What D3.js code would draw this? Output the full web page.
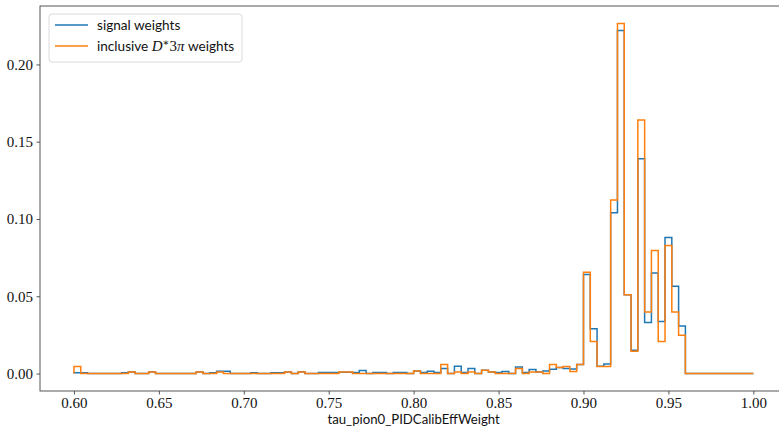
<!DOCTYPE html>
<html>
<head>
<meta charset="utf-8">
<script src="https://cdn.jsdelivr.net/npm/d3@7"></script>
<style>
  body { margin: 0; background: #fff; }
  svg { display: block; }
</style>
</head>
<body>
<svg id="chart" width="779" height="430"></svg>
<script>
// ---------- data ----------
const binStart = 0.6;
const binWidth = 0.004;
const nBins = 100;

const signalWeights = [
  0.0005, 0.0005, 0, 0, 0, 0, 0, 0.0005, 0.001, 0,
  0, 0.001, 0, 0, 0, 0, 0, 0, 0.001, 0,
  0.0005, 0.0015, 0.0015, 0, 0, 0, 0.0005, 0, 0, 0.0005,
  0.0005, 0.001, 0, 0.001, 0, 0, 0.0006, 0.0006, 0.0006, 0.0008,
  0.0008, 0.0006, 0.0019, 0, 0.0006, 0.0006, 0, 0.0006, 0.0006, 0,
  0.0017, 0.0006, 0.0015, 0.0006, 0.0032, 0, 0.0047, 0.0006, 0.0032, 0,
  0.0022, 0.001, 0.0006, 0.0013, 0, 0.0043, 0.0006, 0.0026, 0.001, 0.0017,
  0.0028, 0.0039, 0.0032, 0.003, 0.0058, 0.064, 0.029, 0.0047, 0.0062, 0.104,
  0.222, 0.051, 0.015, 0.139, 0.033, 0.065, 0.0337, 0.088, 0.0564, 0.0307,
  0, 0, 0, 0, 0, 0, 0, 0, 0, 0
];

const inclusiveWeights = [
  0.0045, 0, 0, 0, 0, 0, 0, 0, 0.001, 0,
  0, 0.001, 0, 0, 0, 0, 0, 0, 0.001, 0,
  0, 0.001, 0, 0, 0, 0, 0, 0, 0, 0,
  0, 0.001, 0, 0.001, 0, 0, 0, 0, 0, 0.001,
  0.001, 0, 0, 0, 0, 0, 0, 0, 0, 0,
  0.0017, 0, 0, 0, 0.0058, 0, 0.001, 0, 0.001, 0,
  0.0022, 0.001, 0, 0, 0, 0.0032, 0, 0.001, 0.001, 0,
  0.0058, 0.0039, 0.0045, 0.0013, 0.0058, 0.0656, 0.0208, 0.0045, 0.0045, 0.1123,
  0.2265, 0.051, 0.0144, 0.164, 0.0398, 0.0796, 0.0208, 0.0828, 0.0398, 0.0247,
  0, 0, 0, 0, 0, 0, 0, 0, 0, 0
];

const xTicks = [0.60, 0.65, 0.70, 0.75, 0.80, 0.85, 0.90, 0.95, 1.00];
const yTicks = [0.00, 0.05, 0.10, 0.15, 0.20];
const xLabel = "tau_pion0_PIDCalibEffWeight";
const seriesNames = ["signal weights", "inclusive"];
const colors = ["#1f77b4", "#ff7f0e"];

// ---------- layout ----------
const svg = d3.select("#chart");
const axL = 40, axR = 787.3, axT = 6, axB = 391;

const x = d3.scaleLinear().domain([0.58, 1.02]).range([axL, axR]);
const y = d3.scaleLinear().domain([-0.0113, 0.2378]).range([axB, axT]);

const spineColor = "#444";
const serif = "Liberation Serif, DejaVu Serif, serif";
const sans = "Lato, Open Sans, DejaVu Sans, sans-serif";

svg.append("defs").append("clipPath").attr("id", "clip")
  .append("rect").attr("x", axL).attr("y", axT).attr("width", axR - axL).attr("height", axB - axT);

// ---------- step histograms ----------
function stepPoints(values) {
  const pts = [[binStart, 0]];
  values.forEach((v, i) => {
    const x0 = binStart + i * binWidth, x1 = binStart + (i + 1) * binWidth;
    pts.push([x0, v]);
    pts.push([x1, v]);
  });
  pts.push([binStart + nBins * binWidth, 0]);
  return pts;
}
const line = d3.line().x(d => x(d[0])).y(d => y(d[1]));

const plot = svg.append("g").attr("clip-path", "url(#clip)");
[signalWeights, inclusiveWeights].forEach((vals, k) => {
  plot.append("path")
    .attr("d", line(stepPoints(vals)))
    .attr("fill", "none")
    .attr("stroke", colors[k])
    .attr("stroke-width", 1.5)
    .attr("stroke-linejoin", "miter");
});

// ---------- axes ----------
const xAxis = svg.append("g").attr("transform", `translate(0,${axB})`)
  .call(d3.axisBottom(x).tickValues(xTicks).tickFormat(d3.format(".2f")).tickSizeInner(3.5).tickSizeOuter(0).tickPadding(3));
const yAxis = svg.append("g").attr("transform", `translate(${axL},0)`)
  .call(d3.axisLeft(y).tickValues(yTicks).tickFormat(d3.format(".2f")).tickSizeInner(3.5).tickSizeOuter(0).tickPadding(3.5));
[xAxis, yAxis].forEach(g => {
  g.attr("font-family", serif).attr("font-size", 15);
  g.select(".domain").remove();
  g.selectAll(".tick line").attr("stroke", spineColor).attr("stroke-width", 0.9);
  g.selectAll(".tick text").attr("fill", "#111");
});

// spines
const spines = svg.append("g").attr("stroke", spineColor).attr("stroke-width", 0.9).attr("fill", "none");
spines.append("rect").attr("x", axL).attr("y", axT).attr("width", axR - axL).attr("height", axB - axT);

// x label
svg.append("text")
  .attr("x", (axL + axR) / 2).attr("y", 424)
  .attr("text-anchor", "middle")
  .attr("font-family", sans).attr("font-size", 13.2).attr("fill", "#111")
  .text(xLabel);

// ---------- legend ----------
const lg = svg.append("g");
lg.append("rect").attr("x", 49).attr("y", 14).attr("width", 193).attr("height", 48)
  .attr("rx", 3).attr("fill", "#fff").attr("fill-opacity", 0.8)
  .attr("stroke", "#d6d6d6").attr("stroke-width", 0.9);
const rowsY = [25, 46];
rowsY.forEach((ry, k) => {
  lg.append("line").attr("x1", 55).attr("x2", 88).attr("y1", ry).attr("y2", ry)
    .attr("stroke", colors[k]).attr("stroke-width", 1.5);
});
lg.append("text").attr("x", 97).attr("y", rowsY[0] + 5)
  .attr("font-family", sans).attr("font-size", 13.6).attr("fill", "#111")
  .text(seriesNames[0]);
const t2 = lg.append("text").attr("x", 97).attr("y", rowsY[1] + 5)
  .attr("font-family", sans).attr("font-size", 13.6).attr("fill", "#111");
t2.append("tspan").text(seriesNames[1] + " ");
t2.append("tspan").attr("font-family", serif).attr("font-style", "italic").attr("font-size", 15).text("D");
t2.append("tspan").attr("font-family", serif).attr("font-size", 10).attr("dy", -5).text("∗");
t2.append("tspan").attr("font-family", serif).attr("font-size", 15).attr("dy", 5).text("3");
t2.append("tspan").attr("font-family", serif).attr("font-style", "italic").attr("font-size", 15).text("π");
t2.append("tspan").text(" weights");
</script>
</body>
</html>
